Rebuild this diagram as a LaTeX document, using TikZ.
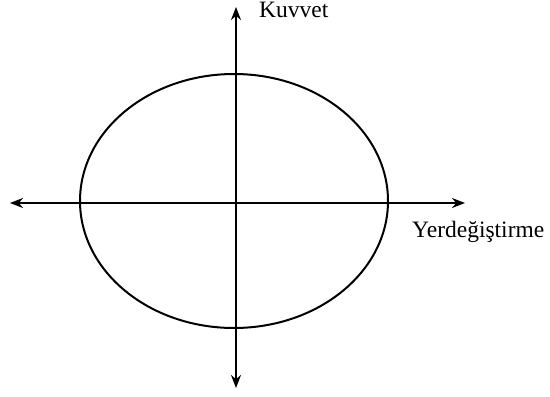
\documentclass[tikz,border=0pt]{standalone}
\usepackage{fontspec}
\setmainfont{Liberation Serif}
\usetikzlibrary{arrows.meta,shapes.geometric}
\begin{document}
\begin{tikzpicture}[x=1pt,y=-1pt,
  axis/.style={line width=2pt,{Stealth[length=13pt,width=10pt]}-{Stealth[length=13pt,width=10pt]}},
  curve/.style={draw,ellipse,line width=2pt,inner sep=0pt},
  lbl/.style={anchor=base west,inner sep=0pt,font=\fontsize{23.5}{26}\selectfont}]
\useasboundingbox (0,0) rectangle (550,397);
\node[curve,minimum width=308pt,minimum height=254pt] (ell) at (234,201) {};
\coordinate (xl) at (10,203);
\coordinate (xr) at (465,203);
\coordinate (yt) at (236,7);
\coordinate (yb) at (236,388);
\draw[axis] (xl) -- (xr);
\draw[axis] (yb) -- (yt);
\node[lbl] (kuv) at (259,17) {Kuvvet};
\node[lbl] (yer) at (412,237) {Yerdeğiştirme};
\end{tikzpicture}
\end{document}
